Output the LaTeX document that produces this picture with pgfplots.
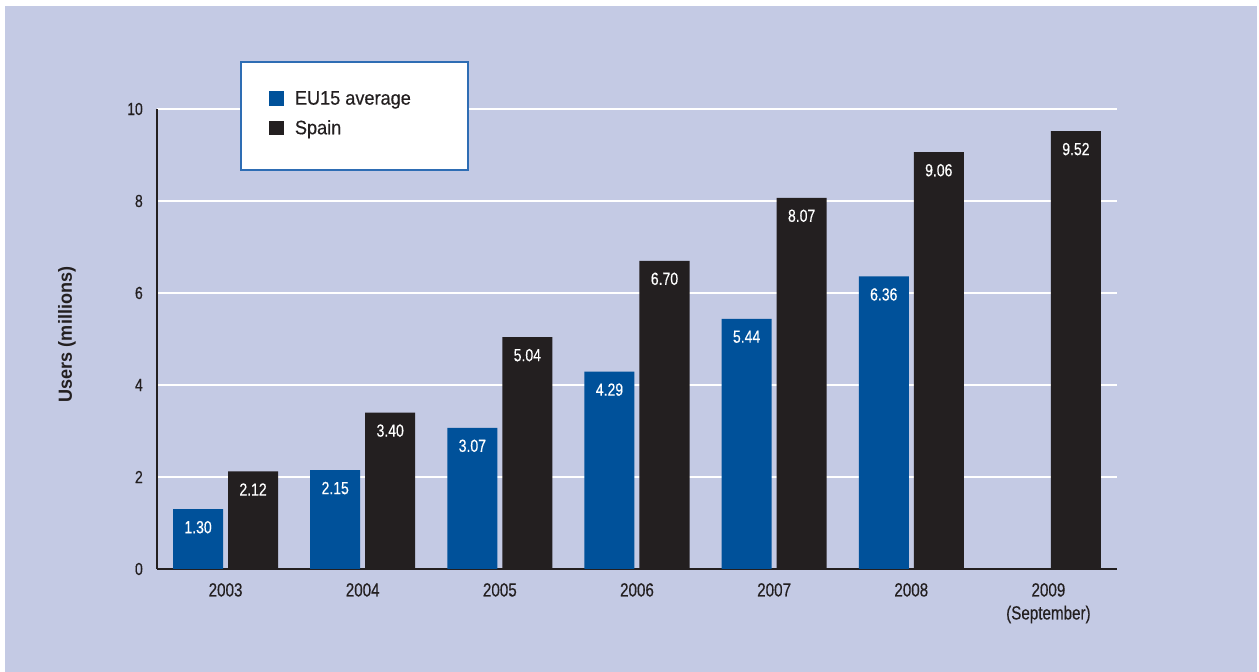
\documentclass[border=0pt]{standalone}
\usepackage{fontspec}
\usepackage{pgfplots}
\pgfplotsset{compat=1.18}
\newfontfamily\cond{Liberation Sans}[FakeStretch=0.80,FakeBold=0.4]
\newfontfamily\legf{Liberation Sans}[FakeStretch=0.93,FakeBold=0.4]
\newfontfamily\labf{Liberation Sans}[FakeStretch=0.95]
\definecolor{bg}{HTML}{C4CAE4}
\definecolor{eublue}{HTML}{00519A}
\definecolor{dark}{HTML}{231F20}
\definecolor{legline}{HTML}{2E6DB4}
\begin{document}
\begin{tikzpicture}[x=1pt,y=1pt]
\path[use as bounding box] (0,0) rectangle (1259,672);
\fill[white] (0,0) rectangle (1259,672);
\fill[bg] (5,0) rectangle (1257,666);
\begin{axis}[
  at={(157pt,103pt)}, anchor=south west,
  scale only axis, width=960pt, height=460pt,
  xmin=-0.5, xmax=6.5, ymin=0, ymax=10,
  clip=false,
  axis x line*=bottom, axis y line*=left,
  axis line style={-, draw=dark, line width=2pt},
  major tick length=0pt,
  xtick={0,...,6},
  xticklabels={2003,2004,2005,2006,2007,2008,{2009\\(September)}},
  xticklabel style={align=center, font=\cond\fontsize{19}{23}\selectfont, text=dark, inner sep=0pt, yshift=-14pt},
  ytick={0,2,...,10},
  yticklabel style={font=\cond\fontsize{17.5}{20}\selectfont, text=dark, inner sep=0pt, xshift=-14pt},
  /pgf/number format/assume math mode=true,
  ymajorgrids, grid style={white, line width=2pt},
  ylabel={Users (millions)},
  ylabel style={at={(rel axis cs:-0.09375,0.5098)}, anchor=center, font=\labf\bfseries\fontsize{19}{22}\selectfont, text=dark},
  ybar, bar width=50pt,
  nodes near coords={\pgfmathprintnumber[fixed,fixed zerofill,precision=2,assume math mode=true]{\pgfplotspointmeta}},
  every node near coord/.append style={anchor=center, yshift=-18pt, text=white, font=\cond\fontsize{17.5}{20}\selectfont},
  legend image code/.code={\fill[#1] (0pt,-7.35pt) rectangle (14.7pt,7.35pt);},
  legend cell align=left,
  legend style={at={(rel axis cs:0.1167,1.0391)}, anchor=north west, draw=none, fill=none,
    inner sep=0pt, row sep=14pt, font=\legf\fontsize{19.5}{23}\selectfont, text=dark,
    nodes={inner sep=0pt},
    /tikz/every odd column/.append style={column sep=11pt}},
]
\addplot[fill=eublue, draw=none, bar shift=-27.5pt] coordinates {(0,1.30) (1,2.15) (2,3.07) (3,4.29) (4,5.44) (5,6.36)};
\addplot[fill=dark, draw=none, bar shift=27.5pt] coordinates {(0,2.12) (1,3.40) (2,5.04) (3,6.70) (4,8.07) (5,9.06) (6,9.52)};
\draw[legline, line width=1.5pt, fill=white] (rel axis cs:0.0875,1.1022) rectangle (rel axis cs:0.3240,0.8674);
\legend{EU15 average, Spain}
\end{axis}
\end{tikzpicture}
\end{document}
